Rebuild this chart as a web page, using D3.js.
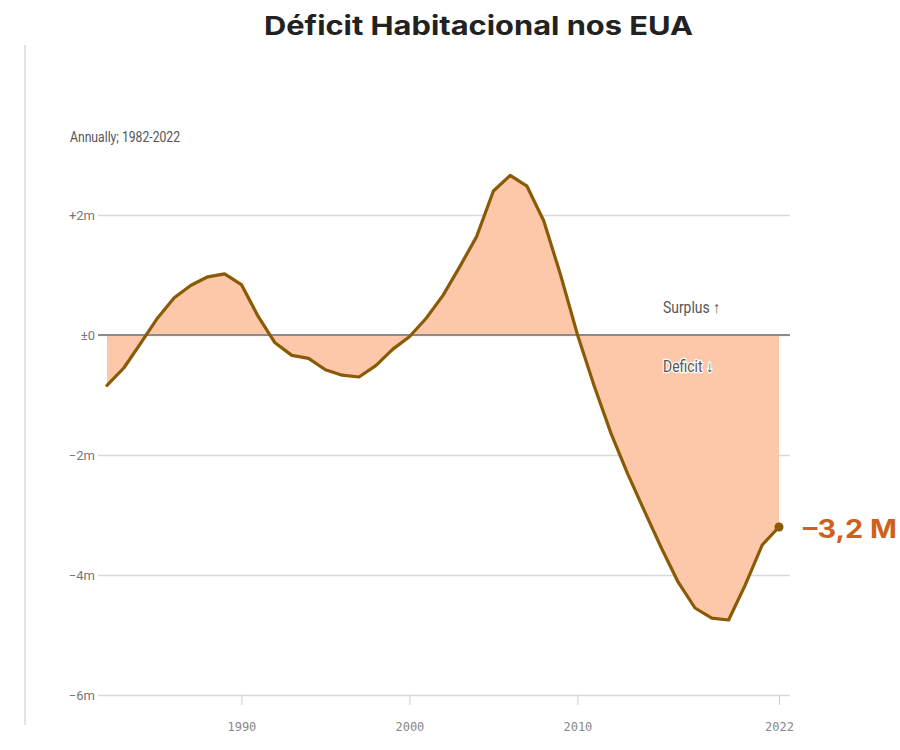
<!DOCTYPE html>
<html>
<head>
<meta charset="utf-8">
<script src="https://cdn.jsdelivr.net/npm/d3@7"></script>
<style>
  html, body { margin: 0; padding: 0; background: #fff; }
  svg { display: block; }
</style>
</head>
<body>
<svg id="chart" width="900" height="750"></svg>
<script>
// US housing surplus / deficit, millions of units, annual
const years = [1982, 1983, 1984, 1985, 1986, 1987, 1988, 1989, 1990, 1991,
               1992, 1993, 1994, 1995, 1996, 1997, 1998, 1999, 2000, 2001,
               2002, 2003, 2004, 2005, 2006, 2007, 2008, 2009, 2010, 2011,
               2012, 2013, 2014, 2015, 2016, 2017, 2018, 2019, 2020, 2021, 2022];
const balance = [-0.84, -0.55, -0.14, 0.28, 0.62, 0.83, 0.97, 1.02, 0.84, 0.31,
                 -0.13, -0.34, -0.39, -0.58, -0.67, -0.70, -0.51, -0.24, -0.03, 0.28,
                 0.66, 1.14, 1.64, 2.40, 2.66, 2.48, 1.90, 1.00, 0.01, -0.85,
                 -1.64, -2.32, -2.94, -3.55, -4.12, -4.55, -4.72, -4.75, -4.16, -3.50, -3.20];
const yTicks = [2, 0, -2, -4, -6];
const yTickLabels = ["+2m", "±0", "−2m", "−4m", "−6m"];
const xTicks = [1990, 2000, 2010, 2022];
const titleText = "Déficit Habitacional nos EUA";
const subtitleText = "Annually; 1982-2022";
const endLabel = "–3,2 M";

const data = years.map((yr, i) => ({ year: yr, value: balance[i] }));

const svg = d3.select("#chart");

const gridLeft = 98, gridRight = 790;
const x = d3.scaleLinear().domain([1982, 2022]).range([107, 779]);
const y = d3.scaleLinear().domain([-6, 3]).range([695, 155]);

const lineColor = "#8a5a06";
const fillColor = "#fdc8a9";
const narrowFont = "Roboto, sans-serif";
const headFont = "Inter, sans-serif";

// thin rule on the left edge of the card
svg.append("line")
  .attr("x1", 25).attr("x2", 25).attr("y1", 45).attr("y2", 725)
  .attr("stroke", "#e3e3e3").attr("stroke-width", 2);

// title, set wide across the heading
svg.append("text")
  .attr("x", 264).attr("y", 35)
  .attr("font-family", headFont)
  .attr("font-weight", 700)
  .attr("font-size", 26)
  .attr("fill", "#222")
  .attr("textLength", 429)
  .attr("lengthAdjust", "spacingAndGlyphs")
  .text(titleText);

// subtitle in a tight, condensed setting
svg.append("text")
  .attr("x", 70).attr("y", 142)
  .attr("font-family", narrowFont)
  .attr("font-size", 14)
  .attr("fill", "#555")
  .attr("textLength", 110)
  .attr("lengthAdjust", "spacingAndGlyphs")
  .text(subtitleText);

// y axis with full-width gridlines
const yAxis = d3.axisLeft(y)
  .tickValues(yTicks)
  .tickFormat((d, i) => yTickLabels[i])
  .tickSize(-(gridRight - gridLeft))
  .tickPadding(3);

const yg = svg.append("g")
  .attr("transform", `translate(${gridLeft},0)`)
  .call(yAxis);
yg.select(".domain").remove();
yg.selectAll(".tick line").attr("stroke", "#d9d9d9").attr("stroke-width", 1.5);
yg.selectAll(".tick text")
  .attr("font-family", narrowFont)
  .attr("font-size", 13)
  .attr("fill", "#777");

// x axis ticks hanging below the bottom gridline
const xAxis = d3.axisBottom(x)
  .tickValues(xTicks)
  .tickFormat(d3.format("d"))
  .tickSize(10)
  .tickPadding(17);
const xg = svg.append("g")
  .attr("transform", `translate(0,${y(-6)})`)
  .call(xAxis);
xg.select(".domain").remove();
xg.selectAll(".tick line").attr("stroke", "#cfcfcf").attr("stroke-width", 1);
xg.selectAll(".tick text")
  .attr("font-family", "'DejaVu Sans Mono', monospace")
  .attr("font-size", 12)
  .attr("fill", "#888");

// shaded band between the curve and zero
const area = d3.area()
  .x(d => x(d.year))
  .y0(y(0))
  .y1(d => y(d.value));
svg.append("path")
  .datum(data)
  .attr("d", area)
  .attr("fill", fillColor);

// zero line
svg.append("line")
  .attr("x1", gridLeft).attr("x2", gridRight)
  .attr("y1", y(0)).attr("y2", y(0))
  .attr("stroke", "#8c8c8c").attr("stroke-width", 2);

// surplus / deficit labels
svg.append("text")
  .attr("x", 663).attr("y", y(0) - 22)
  .attr("font-family", narrowFont)
  .attr("font-size", 16)
  .attr("fill", "#555")
  .attr("textLength", 57)
  .attr("lengthAdjust", "spacingAndGlyphs")
  .text("Surplus ↑");
svg.append("text")
  .attr("x", 663).attr("y", y(0) + 37)
  .attr("font-family", narrowFont)
  .attr("font-size", 16)
  .attr("fill", "#555")
  .attr("stroke", "#fff")
  .attr("stroke-width", 2.5)
  .attr("paint-order", "stroke")
  .attr("textLength", 50)
  .attr("lengthAdjust", "spacingAndGlyphs")
  .text("Deficit ↓");

// the balance line
const line = d3.line()
  .x(d => x(d.year))
  .y(d => y(d.value));
svg.append("path")
  .datum(data)
  .attr("d", line)
  .attr("fill", "none")
  .attr("stroke", lineColor)
  .attr("stroke-width", 3.2)
  .attr("stroke-linejoin", "round")
  .attr("stroke-linecap", "round");

// end point and its value label
const last = data[data.length - 1];
svg.append("circle")
  .attr("cx", x(last.year)).attr("cy", y(last.value))
  .attr("r", 4.5)
  .attr("fill", lineColor);
svg.append("text")
  .attr("x", 803).attr("y", y(last.value) + 4)
  .attr("dominant-baseline", "middle")
  .attr("font-family", headFont)
  .attr("font-weight", 700)
  .attr("font-size", 25)
  .attr("fill", "#d0611c")
  .attr("textLength", 94)
  .attr("lengthAdjust", "spacingAndGlyphs")
  .text(endLabel);
</script>
</body>
</html>
